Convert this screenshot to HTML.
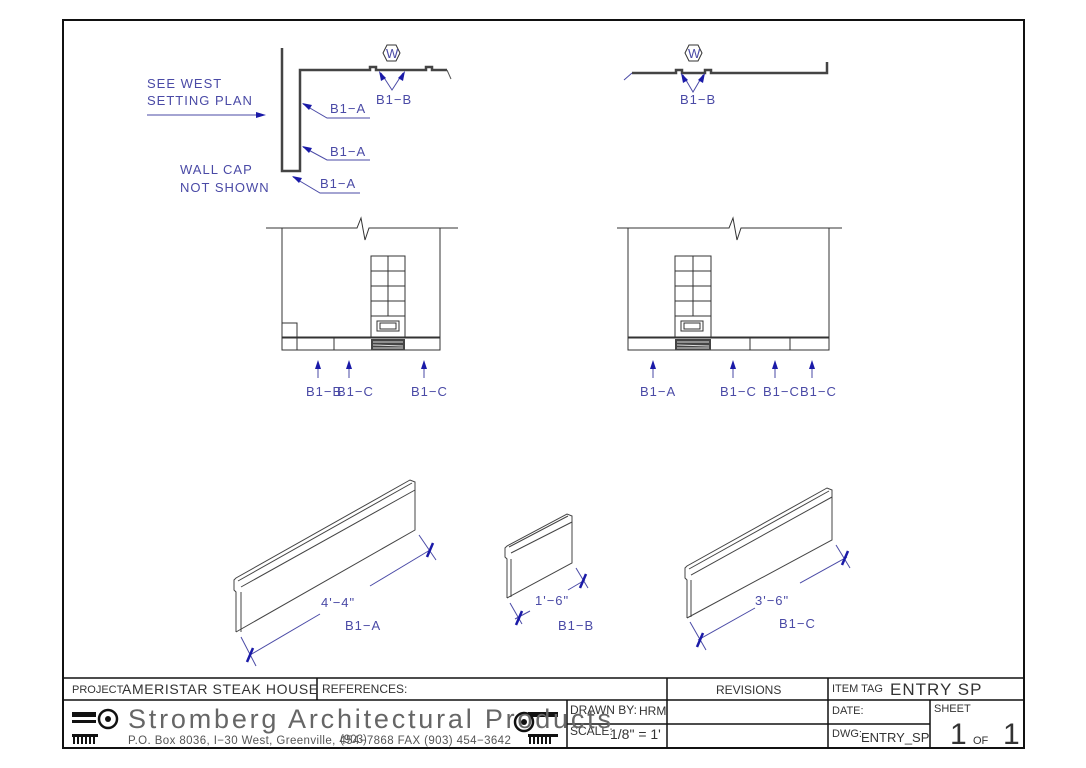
<!DOCTYPE html>
<html><head><meta charset="utf-8"><style>
html,body{margin:0;padding:0;background:#fff;}
svg{display:block;}
text{font-family:"Liberation Sans",sans-serif;}
.b{fill:#4a4aa6;font-size:13px;letter-spacing:1px;}
.k{fill:#333;}
</style></head><body>
<svg width="1086" height="768" viewBox="0 0 1086 768" xmlns="http://www.w3.org/2000/svg">
<rect x="0" y="0" width="1086" height="768" fill="#fff"/>
<rect x="63" y="20" width="961" height="728" fill="none" stroke="#111" stroke-width="2"/>

<!-- top-left plan -->
<g fill="none" stroke="#444" stroke-width="2.5">
<polyline points="282,48 282,171 300,171 300,70 370,70 370,67 376,67 376,70 426,70 426,67 432,67 432,70 447,70"/>
</g>
<line x1="447" y1="70" x2="451" y2="79" stroke="#555" stroke-width="1"/>
<polygon points="383,53 387,45 396,45 400,53 396,61 387,61" fill="none" stroke="#333"/>
<text x="386" y="58" class="b" font-size="10" letter-spacing="0">W</text>
<g stroke="#4a4aa6" stroke-width="1" fill="none">
<polyline points="381,73 392,90 403,73"/>
<line x1="147" y1="115" x2="262" y2="115"/>
<polyline points="303,104 327,118 370,118"/>
<polyline points="303,147 327,160 370,160"/>
<polyline points="293,177 320,193 360,193"/>
<polyline points="624,80 632,73"/>
</g>
<g fill="#1a1aa8">
<polygon points="266,115 256,112 256,118"/>
<polygon points="302,103 312,105 309,110"/>
<polygon points="302,146 312,148 309,153"/>
<polygon points="292,176 302,178 299,183"/>
<polygon points="379,71 386,78 381,81"/>
<polygon points="405,71 398,78 403,81"/>
</g>
<text x="147" y="88" class="b">SEE WEST</text>
<text x="147" y="105" class="b">SETTING PLAN</text>
<text x="330" y="113" class="b">B1−A</text>
<text x="330" y="156" class="b">B1−A</text>
<text x="320" y="188" class="b">B1−A</text>
<text x="376" y="104" class="b">B1−B</text>
<text x="180" y="174" class="b">WALL CAP</text>
<text x="180" y="192" class="b">NOT SHOWN</text>

<!-- top-right plan -->
<polyline points="632,73 676,73 676,70 682,70 682,73 705,73 705,70 711,70 711,73 827,73 827,62" fill="none" stroke="#444" stroke-width="2.5"/>
<polygon points="685,53 689,45 698,45 702,53 698,61 689,61" fill="none" stroke="#333"/>
<text x="688" y="58" class="b" font-size="10" letter-spacing="0">W</text>
<polyline points="683,75 693,92 703,75" fill="none" stroke="#4a4aa6"/>
<polygon points="681,73 688,80 683,83" fill="#1a1aa8"/>
<polygon points="705,73 698,80 703,83" fill="#1a1aa8"/>
<text x="680" y="104" class="b">B1−B</text>

<!-- left elevation -->
<g fill="none" stroke="#333" stroke-width="1">
<polyline points="266,228 357,228 361,218 365,240 369,228 458,228"/>
<line x1="282" y1="228" x2="282" y2="350"/>
<line x1="440" y1="228" x2="440" y2="350"/>
<rect x="371" y="256" width="34" height="60"/>
<line x1="388" y1="256" x2="388" y2="316"/>
<line x1="371" y1="271" x2="405" y2="271"/><line x1="371" y1="286" x2="405" y2="286"/><line x1="371" y1="301" x2="405" y2="301"/>
<rect x="371" y="316" width="34" height="22"/>
<rect x="377" y="321" width="22" height="10"/><rect x="380" y="323" width="16" height="6"/>
<rect x="282" y="338" width="158" height="12"/>
<line x1="282" y1="337" x2="440" y2="337"/>
<line x1="297" y1="338" x2="297" y2="350"/><line x1="334" y1="338" x2="334" y2="350"/>
<polyline points="282,323 297,323 297,338"/>
</g>
<rect x="371" y="339" width="34" height="11" fill="#444"/>
<g stroke="#ddd" stroke-width="1"><line x1="373" y1="342" x2="403" y2="342"/><line x1="373" y1="345" x2="403" y2="346"/><line x1="373" y1="348" x2="403" y2="348"/></g>

<!-- right elevation -->
<g fill="none" stroke="#333" stroke-width="1">
<polyline points="617,228 729,228 733,218 737,240 741,228 842,228"/>
<line x1="628" y1="228" x2="628" y2="350"/>
<line x1="829" y1="228" x2="829" y2="350"/>
<rect x="675" y="256" width="36" height="60"/>
<line x1="693" y1="256" x2="693" y2="316"/>
<line x1="675" y1="271" x2="711" y2="271"/><line x1="675" y1="286" x2="711" y2="286"/><line x1="675" y1="301" x2="711" y2="301"/>
<rect x="675" y="316" width="36" height="22"/>
<rect x="681" y="321" width="22" height="10"/><rect x="684" y="323" width="16" height="6"/>
<rect x="628" y="338" width="201" height="12"/>
<line x1="628" y1="337" x2="829" y2="337"/>
<line x1="750" y1="338" x2="750" y2="350"/><line x1="790" y1="338" x2="790" y2="350"/>
</g>
<rect x="675" y="339" width="36" height="11" fill="#444"/>
<g stroke="#ddd" stroke-width="1"><line x1="677" y1="342" x2="709" y2="342"/><line x1="677" y1="345" x2="709" y2="346"/><line x1="677" y1="348" x2="709" y2="348"/></g>

<!-- elevation arrows -->
<g stroke="#4a4aa6" stroke-width="1">
<line x1="318" y1="362" x2="318" y2="378"/><line x1="349" y1="362" x2="349" y2="378"/><line x1="424" y1="362" x2="424" y2="378"/>
<line x1="653" y1="362" x2="653" y2="378"/><line x1="733" y1="362" x2="733" y2="378"/><line x1="775" y1="362" x2="775" y2="378"/><line x1="812" y1="362" x2="812" y2="378"/>
</g>
<g fill="#1a1aa8">
<polygon points="318,360 315,369 321,369"/><polygon points="349,360 346,369 352,369"/><polygon points="424,360 421,369 427,369"/>
<polygon points="653,360 650,369 656,369"/><polygon points="733,360 730,369 736,369"/><polygon points="775,360 772,369 778,369"/><polygon points="812,360 809,369 815,369"/>
</g>
<text x="306" y="396" class="b">B1−B</text><text x="337" y="396" class="b">B1−C</text><text x="411" y="396" class="b">B1−C</text>
<text x="640" y="396" class="b">B1−A</text><text x="720" y="396" class="b">B1−C</text><text x="763" y="396" class="b">B1−C</text><text x="800" y="396" class="b">B1−C</text>

<!-- isometric pieces -->
<g fill="none" stroke="#444" stroke-width="1">
<polyline points="236,632 415,530 415,482 410,480 236,578 234,580 234,590 236,592 236,632"/>
<line x1="241" y1="632" x2="241" y2="592"/>
<line x1="241" y1="587" x2="415" y2="490"/>
<line x1="238" y1="581" x2="412" y2="483"/>
<polyline points="507,598 572,563 572,516 567,514 507,546 505,548 505,557 507,559 507,598"/>
<line x1="511" y1="597" x2="511" y2="559"/>
<line x1="511" y1="553" x2="572" y2="522"/>
<line x1="509" y1="547" x2="568" y2="516"/>
<polyline points="687,618 832,540 832,490 827,488 687,566 685,568 685,578 687,580 687,618"/>
<line x1="691" y1="617" x2="691" y2="580"/>
<line x1="691" y1="575" x2="832" y2="497"/>
<line x1="689" y1="569" x2="829" y2="491"/>
</g>
<g stroke="#4a4aa6" stroke-width="1" fill="none">
<line x1="241" y1="637" x2="256" y2="666"/><line x1="419" y1="535" x2="436" y2="560"/>
<line x1="250" y1="655" x2="320" y2="614"/><line x1="370" y1="586" x2="430" y2="550"/>
<line x1="510" y1="603" x2="522" y2="624"/><line x1="576" y1="568" x2="588" y2="588"/>
<line x1="515" y1="619" x2="530" y2="611"/><line x1="568" y1="590" x2="585" y2="580"/>
<line x1="690" y1="622" x2="706" y2="650"/><line x1="836" y1="545" x2="850" y2="568"/>
<line x1="698" y1="640" x2="755" y2="608"/><line x1="800" y1="583" x2="847" y2="557"/>
</g>
<g stroke="#1a1aa8" stroke-width="2.5">
<line x1="247" y1="662" x2="253" y2="648"/><line x1="427" y1="557" x2="433" y2="543"/>
<line x1="516" y1="625" x2="522" y2="611"/><line x1="580" y1="588" x2="586" y2="574"/>
<line x1="697" y1="647" x2="703" y2="633"/><line x1="842" y1="565" x2="848" y2="551"/>
</g>
<text x="321" y="607" class="b">4'−4"</text><text x="345" y="630" class="b">B1−A</text>
<text x="535" y="605" class="b">1'−6"</text><text x="558" y="630" class="b">B1−B</text>
<text x="755" y="605" class="b">3'−6"</text><text x="779" y="628" class="b">B1−C</text>

<!-- title block -->
<g stroke="#111" stroke-width="1.5" fill="none">
<line x1="63" y1="678" x2="1024" y2="678"/>
<line x1="63" y1="700" x2="1024" y2="700"/>
<line x1="317" y1="678" x2="317" y2="700"/>
<line x1="667" y1="678" x2="667" y2="748"/>
<line x1="828" y1="678" x2="828" y2="748"/>
<line x1="567" y1="700" x2="567" y2="748"/>
<line x1="567" y1="724" x2="828" y2="724"/>
<line x1="828" y1="724" x2="930" y2="724"/>
<line x1="930" y1="700" x2="930" y2="748"/>
</g>
<text x="72" y="693" class="k" font-size="11">PROJECT</text>
<text x="122" y="694" class="k" font-size="14" letter-spacing="0.6">AMERISTAR STEAK HOUSE</text>
<text x="322" y="693" class="k" font-size="12">REFERENCES:</text>
<text x="716" y="694" class="k" font-size="12">REVISIONS</text>
<text x="832" y="692" class="k" font-size="11">ITEM TAG</text>
<text x="890" y="695" class="k" font-size="17" letter-spacing="1">ENTRY SP</text>
<text x="832" y="714" class="k" font-size="11">DATE:</text>
<text x="832" y="737" class="k" font-size="11">DWG:</text>
<text x="861" y="742" class="k" font-size="13">ENTRY_SP</text>
<text x="934" y="712" class="k" font-size="11">SHEET</text>
<text x="950" y="744" class="k" font-size="30" font-weight="100">1</text>
<text x="973" y="744" class="k" font-size="11">OF</text>
<text x="1003" y="744" class="k" font-size="30">1</text>
<text x="570" y="714" class="k" font-size="12">DRAWN BY:</text>
<text x="639" y="715" class="k" font-size="12">HRM</text>
<text x="570" y="735" class="k" font-size="12">SCALE:</text>
<text x="610" y="739" class="k" font-size="14">1/8" = 1'</text>
<g fill="#111">
<rect x="72" y="712" width="24" height="5"/><rect x="72" y="720" width="24" height="3"/>
<rect x="72" y="734" width="26" height="3"/>
<rect x="73" y="737" width="2" height="7"/><rect x="77" y="737" width="2" height="7"/><rect x="81" y="737" width="2" height="7"/><rect x="85" y="737" width="2" height="7"/><rect x="89" y="737" width="2" height="7"/><rect x="93" y="737" width="2" height="7"/>
<circle cx="108" cy="719" r="9" fill="none" stroke="#111" stroke-width="2.5"/><circle cx="108" cy="719" r="3"/>
<rect x="528" y="712" width="30" height="5"/><rect x="528" y="734" width="30" height="3"/>
<rect x="529" y="737" width="2" height="7"/><rect x="533" y="737" width="2" height="7"/><rect x="537" y="737" width="2" height="7"/><rect x="541" y="737" width="2" height="7"/><rect x="545" y="737" width="2" height="7"/><rect x="549" y="737" width="2" height="7"/>
<circle cx="524" cy="722" r="9" fill="none" stroke="#111" stroke-width="2.5"/><circle cx="524" cy="722" r="3"/>
</g>
<text x="128" y="728" fill="#666" font-size="27" letter-spacing="2.8" font-weight="300">Stromberg Architectural Products</text>
<text x="128" y="744" fill="#555" font-size="11.5" letter-spacing="0.4">P.O. Box 8036, I−30 West, Greenville, 454−7868   FAX (903) 454−3642</text>
<text x="340" y="743" fill="#555" font-size="11.5">(903)</text>
</svg>
</body></html>
